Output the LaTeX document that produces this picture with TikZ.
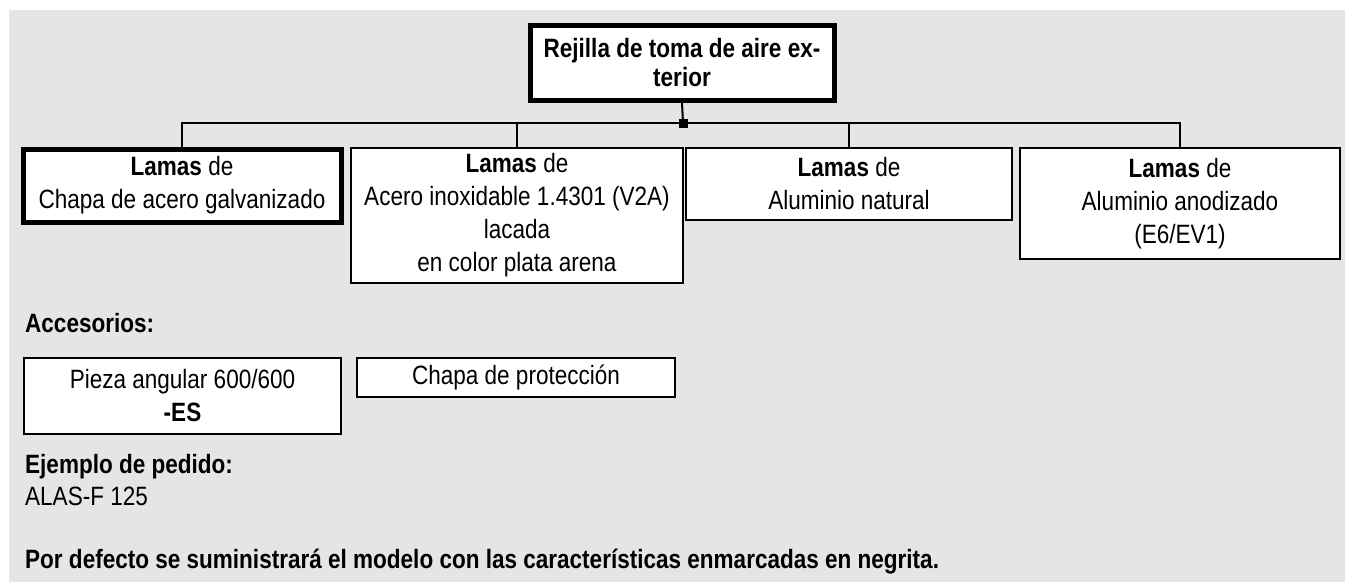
\documentclass[tikz,border=0pt]{standalone}
\usepackage{fontspec}
\setmainfont{Liberation Sans}[FakeStretch=0.85]
\definecolor{panel}{RGB}{229,229,229}
\begin{document}
\begin{tikzpicture}[x=1pt,y=-1pt,
  fnt/.style={font=\fontsize{26.5}{33}\selectfont},
  txt/.style={fnt, inner sep=0pt, anchor=base west},
  btxt/.style={txt, font=\fontsize{26.5}{33}\selectfont\bfseries},
  box/.style={fnt, draw, line width=2pt, fill=white, align=center, inner sep=0pt},
  boldbox/.style={box, line width=5pt},
  conn/.style={line width=2pt}]
\path[use as bounding box] (0,0) rectangle (1345,582);
\fill[panel] (9,10) rectangle (1345,582);

\node[boldbox, font=\fontsize{26.5}{29}\selectfont\bfseries, minimum width=304pt, minimum height=75pt] (T) at (682,62.5) {Rejilla de toma de aire ex-\\terior};

\node[boldbox, minimum width=318pt, minimum height=73pt] (b1) at (182,185.5) {\textbf{Lamas} de\\Chapa de acero galvanizado};
\node[box, minimum width=332pt, minimum height=135pt] (b2) at (517,215.5) {\textbf{Lamas} de\\Acero inoxidable 1.4301 (V2A)\\lacada\\en color plata arena};
\node[box, minimum width=326pt, minimum height=72pt] (b3) at (849,184) {\textbf{Lamas} de\\Aluminio natural};
\node[box, minimum width=320pt, minimum height=111pt] (b4) at (1180,203.5) {\textbf{Lamas} de\\Aluminio anodizado\\(E6/EV1)};

\node[fill, minimum size=9pt, inner sep=0pt] (J) at (683,123) {};
\draw[conn] (T.south) -- (J.center);
\draw[conn] (b1.north) |- (J.center) -| (b4.north);
\draw[conn] (b2.north) -- (b2.north |- J.center);
\draw[conn] (b3.north) -- (b3.north |- J.center);

\node[btxt] (acc) at (25,332) {Accesorios:};
\node[box, minimum width=317pt, minimum height=76pt] (a1) at (182.5,396) {Pieza angular 600/600\\\textbf{-ES}};
\node[box, minimum width=318pt, minimum height=39pt] (a2) at (516,377.5) {Chapa de protección};

\node[btxt] (ej) at (25,473) {Ejemplo de pedido:};
\node[txt] (ord) at (25,505) {ALAS-F 125};
\node[btxt] (def) at (25,568) {Por defecto se suministrará el modelo con las características enmarcadas en negrita.};
\end{tikzpicture}
\end{document}
